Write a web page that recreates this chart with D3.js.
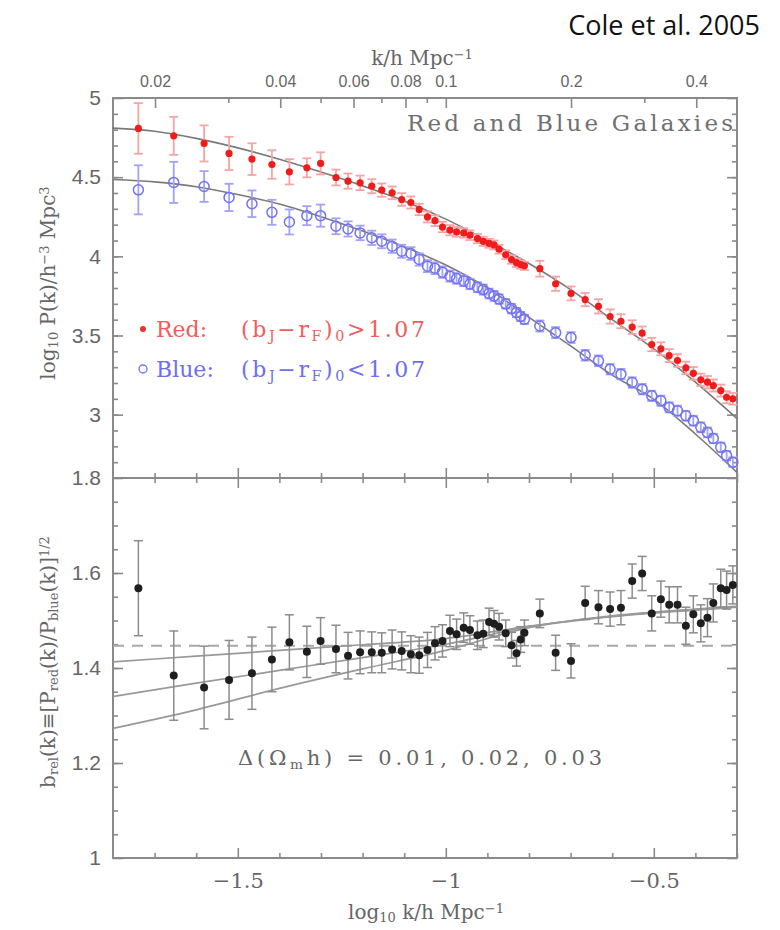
<!DOCTYPE html>
<html><head><meta charset="utf-8">
<script src="https://cdn.jsdelivr.net/npm/d3@7"></script>
<style>body{margin:0;background:#fff}svg{display:block}</style>
</head><body>
<svg id="chart" width="780" height="930"></svg>
<script>
// ---- data ----
const logK = [-1.739,-1.654,-1.581,-1.521,-1.466,-1.418,-1.376,-1.334,-1.301,
  -1.264,-1.235,-1.206,-1.178,-1.154,-1.129,-1.106,-1.084,-1.064,-1.044,-1.026,-1.008,-0.990,-0.974,-0.957,-0.942,-0.924,-0.910,-0.896,-0.884,-0.872,-0.856,-0.842,-0.830,-0.820,-0.811,
  -0.774,-0.736,-0.699,-0.665,-0.633,-0.605,-0.579,-0.552,-0.528,-0.505,-0.483,-0.463,-0.443,-0.423,-0.405,-0.387,-0.371,-0.357,-0.339,-0.325,-0.310];
const redP = [4.808,4.761,4.713,4.650,4.614,4.580,4.534,4.559,4.587,
  4.498,4.475,4.464,4.443,4.418,4.401,4.359,4.340,4.296,4.249,4.225,4.185,4.165,4.154,4.148,4.133,4.112,4.095,4.082,4.072,4.045,4.010,3.980,3.960,3.948,3.940,
  3.922,3.827,3.766,3.727,3.684,3.620,3.590,3.553,3.515,3.443,3.416,3.373,3.342,3.295,3.261,3.220,3.205,3.184,3.152,3.110,3.100];
const redErr = [0.16,0.12,0.114,0.105,0.10,0.09,0.08,0.06,0.07,
  0.05,0.048,0.046,0.044,0.042,0.04,0.04,0.038,0.036,0.035,0.034,0.033,0.032,0.031,0.030,0.030,0.029,0.029,0.028,0.028,0.028,0.027,0.027,0.027,0.026,0.026,
  0.05,0.045,0.044,0.042,0.045,0.045,0.044,0.043,0.042,0.042,0.041,0.041,0.040,0.040,0.040,0.039,0.039,0.038,0.038,0.038,0.037];
const blueP = [4.420,4.467,4.441,4.372,4.332,4.278,4.217,4.257,4.257,
  4.190,4.173,4.148,4.117,4.095,4.064,4.032,4.018,3.980,3.938,3.925,3.900,3.875,3.860,3.845,3.825,3.805,3.790,3.765,3.750,3.730,3.700,3.670,3.645,3.620,3.602,
  3.560,3.518,3.487,3.375,3.340,3.287,3.256,3.203,3.161,3.119,3.088,3.046,3.025,2.993,2.962,2.920,2.888,2.850,2.794,2.741,2.700];
const blueErr = [0.155,0.13,0.097,0.086,0.084,0.079,0.079,0.06,0.07,
  0.05,0.048,0.046,0.045,0.044,0.042,0.041,0.04,0.039,0.038,0.037,0.036,0.035,0.034,0.033,0.033,0.032,0.032,0.031,0.031,0.030,0.030,0.030,0.029,0.029,0.029,
  0.035,0.035,0.034,0.034,0.034,0.033,0.033,0.033,0.033,0.032,0.032,0.032,0.032,0.031,0.031,0.031,0.031,0.030,0.030,0.030,0.030];
const bias = [1.568,1.384,1.359,1.375,1.389,1.418,1.454,1.434,1.457,
  1.440,1.426,1.433,1.433,1.432,1.439,1.436,1.429,1.427,1.438,1.452,1.457,1.478,1.471,1.485,1.480,1.469,1.472,1.497,1.493,1.487,1.473,1.448,1.431,1.460,1.474,
  1.515,1.432,1.415,1.537,1.528,1.524,1.527,1.583,1.599,1.515,1.545,1.533,1.533,1.489,1.513,1.494,1.506,1.537,1.568,1.564,1.575];
const biasErr = [0.10,0.094,0.087,0.083,0.076,0.068,0.058,0.054,0.049,
  0.05,0.049,0.045,0.043,0.042,0.041,0.04,0.039,0.038,0.037,0.035,0.034,0.033,0.032,0.031,0.030,0.030,0.029,0.029,0.028,0.028,0.028,0.027,0.027,0.027,0.027,
  0.03,0.037,0.036,0.035,0.035,0.036,0.036,0.036,0.036,0.037,0.038,0.038,0.038,0.039,0.039,0.039,0.04,0.04,0.04,0.04,0.04];

const modelX = [-1.8,-1.7,-1.6,-1.5,-1.4,-1.3,-1.2,-1.1,-1.0,-0.9,-0.8,-0.7,-0.6,-0.5,-0.4,-0.3];
const modelRed = [4.81,4.79,4.745,4.685,4.613,4.532,4.445,4.35,4.235,4.10,3.955,3.79,3.60,3.415,3.205,2.975];
const modelBlue = [4.485,4.47,4.44,4.39,4.33,4.25,4.16,4.06,3.945,3.80,3.615,3.435,3.25,3.097,2.878,2.635];

const biasModelX = [-1.8,-1.6,-1.4,-1.2,-1.0,-0.8,-0.6,-0.4,-0.3];
const biasModel1 = [1.413,1.425,1.437,1.449,1.462,1.488,1.510,1.524,1.530];
const biasModel2 = [1.340,1.368,1.395,1.422,1.450,1.487,1.509,1.523,1.529];
const biasModel3 = [1.273,1.312,1.357,1.398,1.437,1.485,1.508,1.522,1.528];
const biasRef = 1.447;

const topK = [0.02,0.03,0.04,0.05,0.06,0.07,0.08,0.09,0.1,0.2,0.3,0.4];
const topKLabels = ["0.02","0.04","0.06","0.08","0.1","0.2","0.4"];
const topYMajor = [3,3.5,4,4.5,5];
const botYMajor = [1,1.2,1.4,1.6,1.8];
const xMajor = [-1.5,-1,-0.5];

// ---- layout ----
const svg = d3.select("#chart");
const L = 113, R = 737, T = 98, M = 478, B = 858;
const x = d3.scaleLinear([-1.8,-0.3],[L,R]);
const yT = d3.scaleLinear([2.6,5],[M,T]);
const yB = d3.scaleLinear([1,1.8],[B,M]);
const AX = "#8a8a8a", TXT = "#666";
const SANS = "'Liberation Sans', Arial, sans-serif", SERIF = "'DejaVu Serif', serif";

function styleAxis(g, fs, fam){
  g.select(".domain").remove();
  g.selectAll(".tick line").attr("stroke",AX).attr("stroke-width",1.6);
  g.selectAll(".tick text").attr("fill",TXT).style("font-size",fs+"px").style("font-family",fam);
}
function addAxis(gen, tr, fs, fam){ const g = svg.append("g").attr("transform",tr).call(gen); styleAxis(g, fs||12, fam||SANS); return g; }

const r10 = (a,b) => d3.range(a,b+1).map(d=>d/10);
const r20 = (a,b) => d3.range(a,b+1).map(d=>d/20);
const minorX = r10(-17,-3).filter(v=>!xMajor.some(m=>Math.abs(m-v)<1e-6));

// top panel ticks
addAxis(d3.axisLeft(yT).tickValues(r10(27,49)).tickSize(-5).tickFormat(""), `translate(${L},0)`);
addAxis(d3.axisLeft(yT).tickValues(topYMajor).tickSize(-10).tickPadding(12).tickFormat(d3.format("")), `translate(${L},0)`, 21, SANS);
addAxis(d3.axisRight(yT).tickValues(r10(27,49)).tickSize(-5).tickFormat(""), `translate(${R},0)`);
addAxis(d3.axisRight(yT).tickValues(topYMajor).tickSize(-10).tickFormat(""), `translate(${R},0)`);
addAxis(d3.axisBottom(x).tickValues(minorX).tickSize(-5).tickFormat(""), `translate(0,${M})`);
addAxis(d3.axisBottom(x).tickValues(xMajor).tickSize(-10).tickFormat(""), `translate(0,${M})`);
// top k axis
const lab = new Set(topKLabels);
addAxis(d3.axisTop(x).tickValues(topK.filter(k=>!lab.has(String(k))).map(Math.log10)).tickSize(-5).tickFormat(""), `translate(0,${T})`);
addAxis(d3.axisTop(x).tickValues(topK.filter(k=>lab.has(String(k))).map(Math.log10)).tickSize(-10).tickPadding(11)
  .tickFormat(v=>topKLabels.find(s=>Math.abs(Math.log10(+s)-v)<1e-9)), `translate(0,${T})`, 16, SANS);

// bottom panel ticks
addAxis(d3.axisLeft(yB).tickValues(r20(21,35)).tickSize(-5).tickFormat(""), `translate(${L},0)`);
addAxis(d3.axisLeft(yB).tickValues(botYMajor).tickSize(-10).tickPadding(12).tickFormat(d3.format("")), `translate(${L},0)`, 21, SANS);
addAxis(d3.axisRight(yB).tickValues(r20(21,35)).tickSize(-5).tickFormat(""), `translate(${R},0)`);
addAxis(d3.axisRight(yB).tickValues(botYMajor).tickSize(-10).tickFormat(""), `translate(${R},0)`);
addAxis(d3.axisTop(x).tickValues(minorX).tickSize(-5).tickFormat(""), `translate(0,${M})`);
addAxis(d3.axisTop(x).tickValues(xMajor).tickSize(-10).tickFormat(""), `translate(0,${M})`);
addAxis(d3.axisBottom(x).tickValues(minorX).tickSize(-5).tickFormat(""), `translate(0,${B})`);
addAxis(d3.axisBottom(x).tickValues(xMajor).tickSize(-10).tickPadding(15).tickFormat(d3.format("")), `translate(0,${B})`, 21, SERIF);

// frames
svg.append("rect").attr("x",L).attr("y",T).attr("width",R-L).attr("height",B-T).attr("fill","none").attr("stroke",AX).attr("stroke-width",2);
svg.append("line").attr("x1",L).attr("x2",R).attr("y1",M).attr("y2",M).attr("stroke",AX).attr("stroke-width",2);

// ---- top panel: models ----
const lineT = d3.line().x((d,i)=>x(modelX[i])).y(d=>yT(d)).curve(d3.curveMonotoneX);
svg.append("path").attr("d",lineT(modelRed)).attr("fill","none").attr("stroke","#7a7a7a").attr("stroke-width",1.6);
svg.append("path").attr("d",lineT(modelBlue)).attr("fill","none").attr("stroke","#7a7a7a").attr("stroke-width",1.6);

function errBars(vals, errs, y, color, cap, w){
  const g = svg.append("g").attr("stroke",color).attr("stroke-width",w||1.5).attr("fill","none");
  vals.forEach((v,i)=>{
    const cx = x(logK[i]), y1 = y(v-errs[i]), y2 = y(v+errs[i]);
    g.append("line").attr("x1",cx).attr("x2",cx).attr("y1",y1).attr("y2",y2);
    g.append("line").attr("x1",cx-cap).attr("x2",cx+cap).attr("y1",y1).attr("y2",y1);
    g.append("line").attr("x1",cx-cap).attr("x2",cx+cap).attr("y1",y2).attr("y2",y2);
  });
}
errBars(blueP, blueErr, yT, "#a2a2f8", 4.5, 1.8);
svg.append("g").selectAll("circle").data(blueP).join("circle")
  .attr("cx",(d,i)=>x(logK[i])).attr("cy",d=>yT(d)).attr("r",5)
  .attr("fill","none").attr("stroke","#7272f5").attr("stroke-width",1.5);
errBars(redP, redErr, yT, "#f7a4a4", 4.5, 1.8);
svg.append("g").selectAll("circle").data(redP).join("circle")
  .attr("cx",(d,i)=>x(logK[i])).attr("cy",d=>yT(d)).attr("r",3.6).attr("fill","#f01c1c");

// ---- bottom panel ----
svg.append("line").attr("x1",L).attr("x2",R).attr("y1",yB(biasRef)).attr("y2",yB(biasRef))
  .attr("stroke","#a8a8a8").attr("stroke-width",2).attr("stroke-dasharray","11,8");
const lineB = d3.line().x((d,i)=>x(biasModelX[i])).y(d=>yB(d)).curve(d3.curveMonotoneX);
[biasModel1,biasModel2,biasModel3].forEach(m=>{
  svg.append("path").attr("d",lineB(m)).attr("fill","none").attr("stroke","#999").attr("stroke-width",1.7);
});
errBars(bias, biasErr, yB, "#8c8c8c", 4.5, 1.5);
svg.append("g").selectAll("circle").data(bias).join("circle")
  .attr("cx",(d,i)=>x(logK[i])).attr("cy",d=>yB(d)).attr("r",4).attr("fill","#1e1e1e");

// ---- texts ----
function t(xp, yp, fam, fs, fill, anchor){
  return svg.append("text").attr("x",xp).attr("y",yp).style("font-family",fam).style("font-size",fs+"px")
    .attr("fill",fill).attr("text-anchor",anchor||"start");
}
function parts(el, arr){
  arr.forEach(([s,kind])=>{
    const ts = el.append("tspan").text(s);
    if(kind==="sub") ts.attr("baseline-shift","-25%").style("font-size","65%");
    if(kind==="sup") ts.attr("baseline-shift","45%").style("font-size","65%");
  });
  return el;
}
t(760,35,"'Open Sans', Lato, sans-serif",27,"#111","end").text("Cole et al. 2005");
parts(t(422,65,SERIF,20,TXT,"middle"),[["k/h  Mpc"],["−1","sup"]]);
t(733,131,SERIF,23,"#707070","end").attr("textLength",326).attr("lengthAdjust","spacing").text("Red and Blue Galaxies");
parts(t(426,919,SERIF,20,TXT,"middle"),[["log"],["10","sub"],[" k/h  Mpc"],["−1","sup"]]);
parts(t(0,0,SERIF,20,TXT,"middle").attr("transform","translate(55,283) rotate(-90)"),
  [["log"],["10","sub"],[" P(k)/h"],["−3","sup"],[" Mpc"],["3","sup"]]);
parts(t(0,0,SERIF,20,TXT,"middle").attr("transform","translate(55,662) rotate(-90)"),
  [["b"],["rel","sub"],["(k)≡[P"],["red","sub"],["(k)/P"],["blue","sub"],["(k)]"],["1/2","sup"]]);

// legend
svg.append("circle").attr("cx",143).attr("cy",329).attr("r",3).attr("fill","#f03030");
svg.append("circle").attr("cx",143).attr("cy",369).attr("r",4).attr("fill","none").attr("stroke","#7878f0").attr("stroke-width",1.4);
t(156,337,SERIF,22,"#f25c5c").text("Red:");
parts(t(241,337,SERIF,22,"#f25c5c").attr("textLength",184).attr("lengthAdjust","spacing"),
  [["(b"],["J","sub"],["−r"],["F","sub"],[")"],["0","sub"],[">1.07"]]);
t(156,377,SERIF,22,"#6e6ef2").text("Blue:");
parts(t(241,377,SERIF,22,"#6e6ef2").attr("textLength",184).attr("lengthAdjust","spacing"),
  [["(b"],["J","sub"],["−r"],["F","sub"],[")"],["0","sub"],["<1.07"]]);

parts(t(238,765,SERIF,21,"#666").attr("textLength",364).attr("lengthAdjust","spacing"),
  [["Δ(Ω"],["m","sub"],["h)  =  0.01,  0.02,  0.03"]]);
</script>
</body></html>
